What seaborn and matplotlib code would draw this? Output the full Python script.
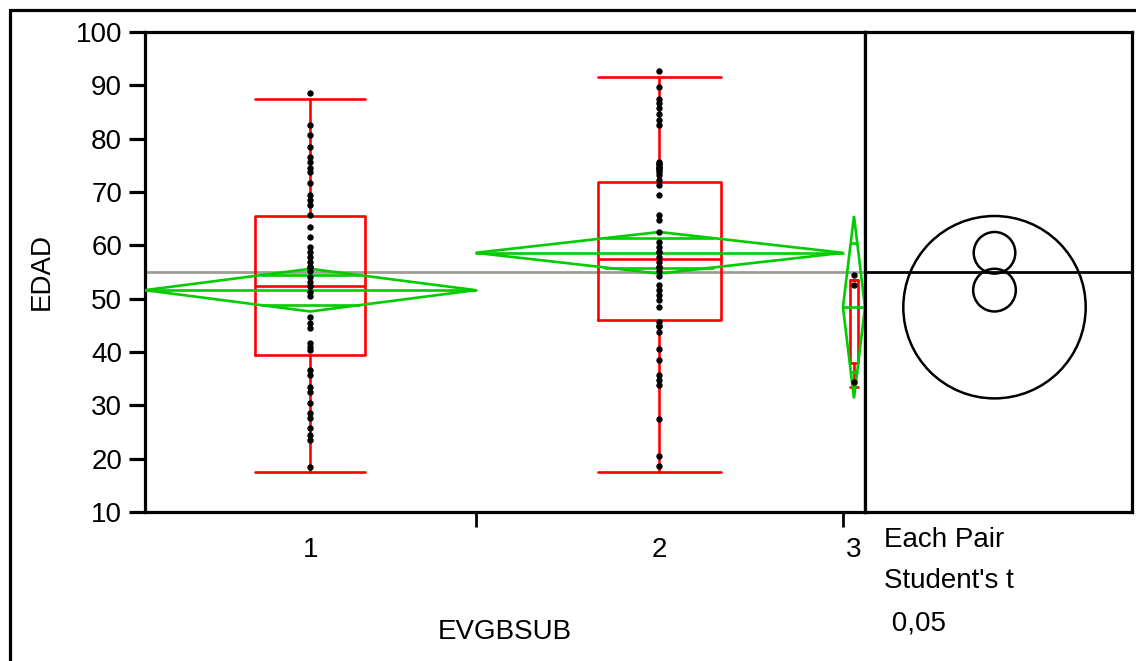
import numpy as np
import pandas as pd
import matplotlib
matplotlib.use("Agg")
import matplotlib.pyplot as plt
from matplotlib.patches import Circle, Rectangle, Polygon
import seaborn as sns

# ---------------- data ----------------
groups = ["1", "2", "3"]
group_n = [45, 50, 3]

edad_1 = [88.5, 82.5, 80.7, 78.5, 76.6, 75.7, 74.5, 73.8, 71.7, 69.5, 68.5, 67.6,
          65.6, 63.5, 61.5, 59.7, 58.8, 57.9, 56.9, 56.0, 56.0, 55.1, 54.1, 53.2,
          52.3, 52.3, 51.3, 50.5, 46.5, 45.5, 44.5, 41.6, 40.9, 40.3, 36.6, 35.7,
          33.5, 32.5, 30.5, 28.5, 27.6, 25.7, 24.5, 23.5, 18.5]
edad_2 = [92.6, 89.7, 87.5, 86.6, 85.7, 84.7, 83.5, 82.5, 75.7, 75.2, 75.2, 74.7,
          74.5, 74.5, 74.2, 73.8, 73.2, 72.3, 71.3, 69.5, 65.7, 64.7, 62.5, 60.6,
          59.7, 58.8, 58.8, 57.9, 56.9, 56.0, 56.0, 55.1, 54.2, 52.6, 51.6, 50.7,
          49.8, 48.5, 45.7, 44.8, 44.8, 43.8, 40.5, 38.5, 35.7, 34.7, 33.8, 27.5,
          20.5, 18.6]
edad_3 = [54.4, 52.6, 34.4]

box_whislo = [17.5, 17.5, 33.4]
box_q1 = [39.4, 46.0, 37.9]
box_med = [52.4, 57.4, 53.5]
box_q3 = [65.5, 71.9, 53.5]
box_whishi = [87.5, 91.5, 53.5]

group_mean = [51.6, 58.6, 48.4]
ci_half = [4.0, 3.9, 17.1]
grand_mean = 55.0

y_ticks = [10, 20, 30, 40, 50, 60, 70, 80, 90, 100]
test_text = ["Each Pair", "Student's t", " 0,05"]

# ---------------- style ----------------
sns.set_theme(style="white")
plt.rcParams["font.family"] = ["Liberation Sans", "DejaVu Sans"]
FS = 20
RED = "#FF0000"
GREEN = "#00CC00"
GRAY = "#A09C96"
LW_SPINE = 2.3
LW_MARK = 1.9

W, H = 1136, 661
fig = plt.figure(figsize=(W / 100, H / 100), dpi=100)
fig.patch.set_facecolor("white")

ax_l, ax_r, ax_t, ax_b = 145, 865, 32, 512
ax = fig.add_axes([ax_l / W, 1 - ax_b / H, (ax_r - ax_l) / W, (ax_b - ax_t) / H])
ax2 = fig.add_axes([ax_r / W, 1 - ax_b / H, (1131.5 - ax_r) / W, (ax_b - ax_t) / H],
                   sharey=ax)

n_arr = np.array(group_n, dtype=float)
edges = np.concatenate([[0], np.cumsum(n_arr)])
centers = (edges[:-1] + edges[1:]) / 2
widths = n_arr  # group widths
N = edges[-1]

# grand mean line
ax.plot([0, N], [grand_mean, grand_mean], color=GRAY, lw=2.0, zorder=1,
        solid_capstyle="butt")

# boxes
stats = []
for i in range(3):
    stats.append(dict(whislo=box_whislo[i], q1=box_q1[i], med=box_med[i],
                      q3=box_q3[i], whishi=box_whishi[i], label=groups[i]))
bw = widths / 3.0
ax.bxp(stats, positions=centers, widths=bw, capwidths=bw, showfliers=False,
       manage_ticks=False,
       boxprops=dict(color=RED, lw=LW_MARK),
       whiskerprops=dict(color=RED, lw=LW_MARK),
       capprops=dict(color=RED, lw=LW_MARK),
       medianprops=dict(color=RED, lw=LW_MARK), zorder=2)

# means diamonds
for i in range(3):
    x0, x1, xc = edges[i], edges[i + 1], centers[i]
    m, h = group_mean[i], ci_half[i]
    diamond = Polygon([[x0, m], [xc, m + h], [x1, m], [xc, m - h]], closed=True,
                      fill=False, ec=GREEN, lw=LW_MARK, zorder=3, joinstyle="miter")
    ax.add_patch(diamond)
    ax.plot([x0, x1], [m, m], color=GREEN, lw=LW_MARK, zorder=3)
    k = 1 / np.sqrt(2)
    hw = (1 - k) * (x1 - x0) / 2
    for s in (1, -1):
        ax.plot([xc - hw, xc + hw], [m + s * h * k] * 2, color=GREEN, lw=LW_MARK, zorder=3)

# points
df = pd.DataFrame({
    "pos": [centers[0]] * len(edad_1) + [centers[1]] * len(edad_2) + [centers[2]] * len(edad_3),
    "EDAD": edad_1 + edad_2 + edad_3,
})
sns.stripplot(data=df, x="pos", y="EDAD", native_scale=True, jitter=False, orient="x",
              color="black", size=4.6, linewidth=0, ax=ax, zorder=4)

ax.set_xlim(0, N)
ax.set_ylim(10, 100)
ax.set_yticks(y_ticks)
ax.set_yticklabels([str(t) for t in y_ticks], fontsize=FS)
ax.set_xticks(edges[1:-1])
ax.set_xticklabels([])
ax.set_xticks(centers, minor=True)
ax.set_xticklabels(groups, minor=True, fontsize=FS)
ax.tick_params(axis="y", which="major", direction="out", length=11.5, width=LW_SPINE,
               pad=5, color="black", labelcolor="black", left=True)
ax.tick_params(axis="x", which="major", direction="out", length=10.8, width=2.0,
               color="black", bottom=True)
ax.tick_params(axis="x", which="minor", length=0, pad=18, labelcolor="black", bottom=True)
ax.set_xlabel("EVGBSUB", fontsize=FS, color="black")
ax.set_ylabel("EDAD", fontsize=FS, color="black")
ax.xaxis.set_label_coords(0.5, -(632 - 512) / 480, transform=ax.transAxes)
ax.yaxis.set_label_coords((42 - 145) / 720, 0.5, transform=ax.transAxes)
ax.xaxis.label.set_va("center")
ax.yaxis.label.set_va("center")
for sp in ax.spines.values():
    sp.set_color("black")
    sp.set_linewidth(LW_SPINE)
    sp.set_visible(True)
ax.grid(False)

# comparison circles panel
px_per_unit = (ax_b - ax_t) / 90.0
panel_units = (1131.5 - ax_r) / px_per_unit
cx_px = 994.5 - ax_r
ax2.set_xlim(-cx_px / px_per_unit, panel_units - cx_px / px_per_unit)
ax2.plot([-100, 100], [grand_mean, grand_mean], color="black", lw=2.0)
for i in range(3):
    ax2.add_patch(Circle((0, group_mean[i]), ci_half[i], fill=False, ec="black", lw=1.8))
ax2.tick_params(left=False, bottom=False, labelleft=False, labelbottom=False)
ax2.set_xticks([])
ax2.set_ylabel("")
for sp in ax2.spines.values():
    sp.set_color("black")
    sp.set_linewidth(LW_SPINE)
    sp.set_visible(True)
ax2.grid(False)

# test legend text
for txt, ypx in zip(test_text, [540, 581, 623]):
    fig.text(884 / W, 1 - ypx / H, txt, fontsize=FS, ha="left", va="center", color="black")

# outer frame
fig.add_artist(Rectangle((9.5 / W, -0.05), 1.2, (1 - 10 / H) + 0.05, fill=False,
                         ec="black", lw=LW_SPINE, transform=fig.transFigure))

fig.savefig("out.png", dpi=100)
